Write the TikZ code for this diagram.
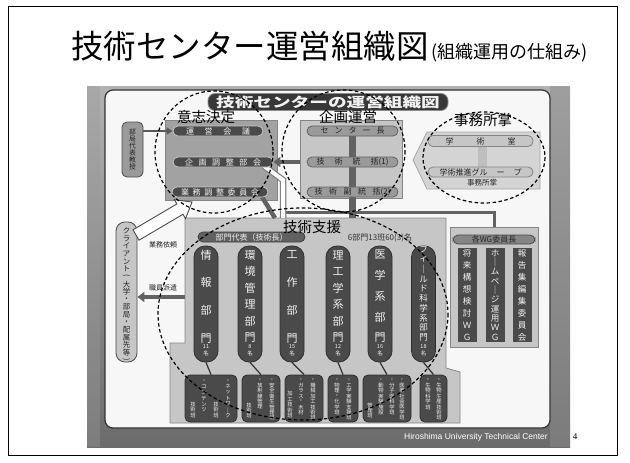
\documentclass[tikz,border=0pt]{standalone}
\usepackage{fontspec}
\usepackage{graphicx}
\newfontfamily\jp{Noto Sans CJK JP}
\newfontfamily\lsans{Liberation Sans}
\newfontfamily\lserif{Liberation Serif}
\usetikzlibrary{arrows.meta,shapes.geometric}
\newcommand{\fsz}[1]{\fontsize{#1}{#1}\selectfont}
\newcommand{\vcol}[6]{\foreach \ch [count=\k] in {#6}{\node[#5] (#1-\k) at (#2,{#3+(\k-1)*(#4)}) {\ch};}}
\newcommand{\vopen}{\rotatebox[origin=c]{-90}{(}}
\newcommand{\vclose}{\rotatebox[origin=c]{-90}{)}}
\definecolor{dk}{HTML}{4A4A4A}
\definecolor{dkedge}{HTML}{2E2E2E}
\definecolor{md}{HTML}{9A9A9A}
\definecolor{lt}{HTML}{C6C6C6}
\definecolor{lt2}{HTML}{D4D4D4}
\definecolor{edge}{HTML}{858585}
\definecolor{bar}{HTML}{626262}
\definecolor{decF}{HTML}{A2A2A2}
\definecolor{panelF}{HTML}{F7F7F7}
\definecolor{txt}{HTML}{222222}
\definecolor{wtxt}{HTML}{F2F2F2}
\tikzset{
 dch/.style={font=\jp\fsz{11}, text=wtxt, inner sep=0pt},
 sch/.style={font=\jp\fsz{8.5}, text=wtxt, inner sep=0pt},
 nch/.style={font=\jp\fsz{5.5}, text=wtxt, inner sep=0pt},
 gch/.style={font=\jp\fsz{5.3}, text=wtxt, inner sep=0pt},
 wch/.style={font=\jp\fsz{8.5}, text=wtxt, inner sep=0pt},
 cch/.style={font=\jp\fsz{7.4}, text=txt, inner sep=0pt},
 kch/.style={font=\jp\fsz{6.8}, text=txt, inner sep=0pt},
 dept/.style={rectangle, rounded corners=11pt, fill=dk, draw=dkedge, line width=0.8pt, minimum width=24pt, minimum height=116pt, inner sep=0pt},
 grp/.style={rectangle, rounded corners=5pt, fill=dk, draw=dkedge, line width=0.8pt, minimum height=47pt, inner sep=0pt},
 wgcol/.style={rectangle, fill=dk, draw=lt, line width=0.8pt, minimum width=20pt, minimum height=95pt, inner sep=0pt},
 darkpill/.style={rectangle, rounded corners=5pt, fill=dk, draw=lt, line width=0.8pt, minimum height=10pt, inner sep=0pt, text=wtxt, font=\jp\fsz{8}},
 greypill/.style={rectangle, rounded corners=5pt, fill=md, draw=bar, line width=0.8pt, minimum height=10pt, inner sep=0pt, text=txt, font=\jp\fsz{8}},
 lightpill/.style={rectangle, rounded corners=5pt, fill=lt, draw=edge, line width=0.8pt, minimum height=11pt, inner sep=0pt, text=txt, font=\jp\fsz{8}},
 areabox/.style={rectangle, draw=edge, line width=0.8pt, inner sep=0pt},
 biglabel/.style={font=\jp\fsz{14.5}, text=black, inner sep=0pt},
 smalllabel/.style={font=\jp\fsz{7}, text=txt, inner sep=0pt},
 circ/.style={draw=black, line width=1.2pt, dash pattern=on 3.5pt off 2.5pt},
 thickarrow/.style={draw=bar, line width=3.5pt, -{Triangle[length=7pt,width=10pt]}},
}
\begin{document}
\begin{tikzpicture}[x=1pt,y=-1pt]
\useasboundingbox (0,0) rectangle (630,463);
\fill[white] (0,0) rectangle (630,463);
\draw[line width=0.8pt] (8,6) rectangle (617,455);
\node[anchor=base west, inner sep=0pt, font=\jp] (title) at (71,58) {{\fsz{32.5}技術センター運営組織図}{\fsz{18}\,(組織運用の仕組み)}};

% image background and panel
\shade[top color=black!30, bottom color=black!58] (87,86) rectangle (570,447);
\fill[black!45, opacity=0.5] (550,86) rectangle (570,447);
\fill[black!40, opacity=0.4] (87,86) rectangle (100,447);
\draw[fill=panelF, draw=black!80, line width=1.2pt, rounded corners=8pt] (105,90) rectangle (550,428);
\node[rectangle, rounded corners=7pt, fill=black!78, draw=black!45, line width=0.8pt, minimum width=240pt, minimum height=17pt, inner sep=0pt, text=wtxt, font=\jp\bfseries] (banner) at (328,102) {\scalebox{1.38}[1]{\fsz{13.5}技術センターの運営組織図}};

% area boxes
\node[areabox, fill=decF, minimum width=112pt, minimum height=80pt] (dec) at (221,160) {};
\node[areabox, fill=lt, minimum width=102pt, minimum height=78pt] (pln) at (351,159) {};
\draw[fill=lt2, draw=black!35, line width=0.8pt] (540,132) -- (427,132) -- (413,160) -- (427,189) -- (540,189) -- cycle;
\node[rectangle, rounded corners=5pt, fill=md, draw=black!70, line width=0.8pt, minimum width=21pt, minimum height=55pt, inner sep=0pt] (bk) at (132.5,149.5) {};
\node[rectangle, rounded corners=9pt, fill=lt, draw=black!70, line width=0.8pt, minimum width=21pt, minimum height=140pt, inner sep=0pt] (cl) at (126.5,292) {};
\draw[fill=lt, draw=edge, line width=0.8pt] (185,218) -- (446,218) -- (446,368) -- (460,372) -- (460,423) -- (170,423) -- (170,343) -- (185,343) -- cycle;
\node[areabox, fill=lt, minimum width=88pt, minimum height=120pt] (wg) at (494,287) {};

% connector bars
\coordinate (bartop) at (352.5,131);
\coordinate (bardn) at (352.5,218);
\draw[bar, line width=7pt] (bartop) -- (bardn);
\coordinate (hl) at (283,212);
\draw[bar, line width=3pt] (hl) -| (wg.north);
\draw[fill=black!25, draw=none] (478,147) rectangle (487,167);
\coordinate (a1) at (264,166);
\coordinate (a2) at (283,180);
\coordinate (a3) at (283,218);
\draw[black!50, line width=6.5pt] (a1) -- (a2) -- (a3);
\draw[white, line width=4pt] (a1) -- (a2) -- (a3);
\coordinate (b1) at (262,197);
\coordinate (b2) at (275,218);
\draw[bar, line width=4.5pt] (b1) -- (b2);

% pills
\node[darkpill, minimum width=90pt] (p1) at (218,131) {\makebox[64pt]{運\hfill 営\hfill 会\hfill 議}};
\node[darkpill, minimum width=100pt] (p2) at (223,162) {\makebox[76pt]{企\hfill 画\hfill 調\hfill 整\hfill 部\hfill 会}};
\node[darkpill, minimum width=96pt] (p3) at (220,192) {\makebox[78pt]{業\hfill 務\hfill 調\hfill 整\hfill 委\hfill 員\hfill 会}};
\node[greypill, minimum width=91pt] (q1) at (352.5,131) {\makebox[64pt]{セ\hfill ン\hfill タ\hfill ー\hfill 長}};
\node[greypill, minimum width=91pt] (q2) at (352.5,162) {\makebox[72pt]{技\hfill 術\hfill 統\hfill 括(1)}};
\node[greypill, minimum width=91pt] (q3) at (352.5,192) {\makebox[76pt]{技\hfill 術\hfill 副\hfill 統\hfill 括(2)}};
\node[lightpill, minimum width=105pt] (r1) at (480.5,141) {\makebox[70pt]{学\hfill 術\hfill 室}};
\node[lightpill, minimum width=105pt, minimum height=10pt] (r2) at (480.5,172) {\makebox[82pt]{学術推進グル\hfill ー\hfill プ}};
\node[smalllabel, font=\jp\fsz{7.5}] (jm) at (482,183) {事務所掌};
\node[darkpill, fill=black!62, draw=black!75, minimum width=107pt] (pb) at (251.5,237) {部門代表（技術長）};
\node[font=\jp\fsz{8}, text=black!80, inner sep=0pt] (cnt) at (380,238) {6部門13班60(3)名};
\node[greypill, fill=black!48, draw=black!70, minimum width=82pt, minimum height=9pt, text=black!85] (pw) at (494,239.5) {各WG委員長};

% department columns
\node[dept] (d1) at (206,304) {};
\node[dept] (d2) at (250,304) {};
\node[dept] (d3) at (292,304) {};
\node[dept] (d4) at (338,304) {};
\node[dept] (d5) at (380,304) {};
\node[dept] (d6) at (423.5,304) {};
\vcol{d1t}{206}{255}{27.7}{dch}{情,報,部,門}
\vcol{d2t}{250}{255}{16.6}{dch}{環,境,管,理,部,門}
\vcol{d3t}{292}{255}{27.7}{dch}{工,作,部,門}
\vcol{d4t}{338}{255}{16.6}{dch}{理,工,学,系,部,門}
\vcol{d5t}{380}{255}{20.75}{dch}{医,学,系,部,門}
\vcol{d6t}{423.5}{250}{9.7}{sch}{フ,ィ,｜,ル,ド,科,学,系,部,門}
\vcol{d1n}{206}{347}{6.5}{nch}{11,名}
\vcol{d2n}{250}{347}{6.5}{nch}{8,名}
\vcol{d3n}{292}{347}{6.5}{nch}{15,名}
\vcol{d4n}{338}{347}{6.5}{nch}{12,名}
\vcol{d5n}{380}{347}{6.5}{nch}{16,名}
\vcol{d6n}{423.5}{347}{6.5}{nch}{18,名}

% groups
\node[grp, minimum width=52pt] (g1) at (211,398.5) {};
\node[grp, minimum width=38pt] (g2) at (261,398.5) {};
\node[grp, minimum width=38pt] (g3) at (304,398.5) {};
\node[grp, minimum width=30pt] (g4) at (343,398.5) {};
\node[grp, minimum width=48pt] (g5) at (387,398.5) {};
\node[grp, minimum width=27pt] (g6) at (433.5,398.5) {};
\foreach \d/\g in {d1/g1,d2/g2,d3/g3,d4/g4,d5/g5,d6/g6}{\draw[black!80, line width=1.2pt] (\d.south) -- (\g.north);}
\vcol{g1a}{228}{381}{5.8}{gch}{・,ネ,ッ,ト,ワ,｜,ク}
\vcol{g1b}{216}{404}{5.8}{gch}{技,術,班}
\vcol{g1c}{204}{381}{5.8}{gch}{・,コ,ン,テ,ン,ツ}
\vcol{g1d}{193}{404}{5.8}{gch}{技,術,班}
\vcol{g2a}{272}{380}{5.4}{gch}{・,安,全,衛,生,管,理,班}
\vcol{g2b}{260}{380}{5.4}{gch}{・,放,射,線,管,理}
\vcol{g2c}{249}{405}{5.4}{gch}{技,術,班}
\vcol{g3a}{313}{380}{5.4}{gch}{・,機,械,加,工,技,術,班}
\vcol{g3b}{301}{380}{5.4}{gch}{・,ガ,ラ,ス,・,木,材}
\vcol{g3c}{290}{394}{5.4}{gch}{加,工,技,術,班}
\vcol{g4a}{349}{380}{5.4}{gch}{・,工,学,実,験,支,援,班}
\vcol{g4b}{337}{380}{5.4}{gch}{・,物,理,・,化,学,班}
\vcol{g5a}{402}{380}{5.4}{gch}{・,医,療,社,会,医,学,班}
\vcol{g5b}{392}{380}{5.4}{gch}{・,分,子,医,科,学,班}
\vcol{g5c}{381}{380}{5.4}{gch}{・,動,物,実,験,施,設}
\vcol{g5d}{370}{405}{5.4}{gch}{管,理,班}
\vcol{g6a}{439}{380}{5.4}{gch}{・,生,物,生,産,技,術,班}
\vcol{g6b}{428}{380}{5.4}{gch}{・,生,物,科,学,班}

% WG columns
\node[wgcol] (w1) at (467,294.5) {};
\node[wgcol] (w2) at (495,294.5) {};
\node[wgcol] (w3) at (522,294.5) {};
\vcol{w1t}{467}{253}{12}{wch}{将,来,構,想,検,討,Ｗ,Ｇ}
\vcol{w2t}{495}{253}{9.33}{wch}{ホ,｜,ム,ペ,｜,ジ,運,用,Ｗ,Ｇ}
\vcol{w3t}{522}{253}{12}{wch}{報,告,集,編,集,委,員,会}

% vertical texts in side boxes
\vcol{bkt}{132.5}{132}{7}{kch}{部,局,代,表,教,授}
\vcol{clt}{126.5}{231}{7.6}{cch}{ク,ラ,イ,ア,ン,ト,\vopen,大,学,・,部,局,・,配,属,先,等,\vclose}

% arrows
\draw[draw=black!65, line width=2.5pt, -{Triangle[length=6pt,width=7pt]}] (bk.east |- p1.west) -- (p1.west);
\draw[thickarrow] (pln.west |- p2.east) -- (p2.east);
\coordinate (dl) at (185,297);
\draw[thickarrow] (dl) -- (cl.east |- dl);
\begin{scope}[shift={(136,235)}, rotate=30.5]
\draw[fill=white, draw=black!70, line width=0.9pt] (0,-6) -- (51,-6) -- (51,-11) -- (65,0) -- (51,11) -- (51,6) -- (0,6) -- cycle;
\end{scope}
\node[smalllabel] (l1) at (163,245) {業務依頼};
\node[smalllabel] (l2) at (163,288) {職員派遣};

% dashed circles
\draw[circ] (214,152) ellipse [x radius=59, y radius=61];
\draw[circ] (343.5,151) ellipse [x radius=61.5, y radius=61];
\draw[circ] (484,157.5) ellipse [x radius=61, y radius=45.5];
\draw[circ] (303,314) ellipse [x radius=145, y radius=106];

% labels
\node[biglabel] (lab1) at (206,117) {意志決定};
\node[biglabel] (lab2) at (348,117) {企画運営};
\node[biglabel] (lab3) at (483,120) {事務所掌};
\node[biglabel] (lab4) at (312,227) {技術支援};

% footer
\node[font=\lsans\fsz{8.5}, text=white, inner sep=0pt] (foot) at (476,437) {Hiroshima University Technical Center};
\node[font=\lserif\fsz{9}, inner sep=0pt] (pg) at (575,437) {4};
\end{tikzpicture}
\end{document}
